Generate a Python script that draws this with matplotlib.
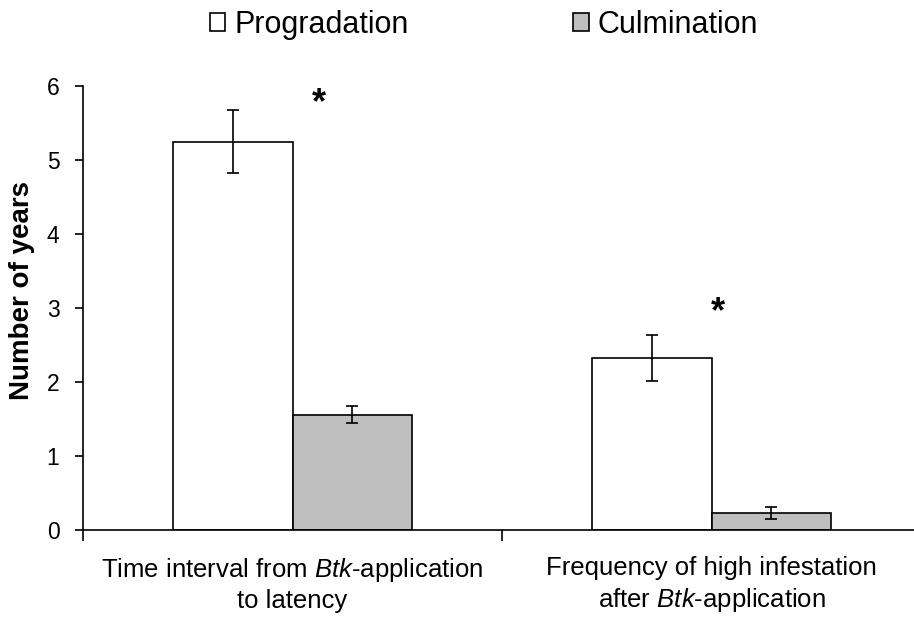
import numpy as np
import matplotlib
matplotlib.use("Agg")
import matplotlib.pyplot as plt
from matplotlib.patches import Patch

plt.rcParams['font.family'] = ['Liberation Sans', 'DejaVu Sans']
plt.rcParams['mathtext.fontset'] = 'custom'
plt.rcParams['mathtext.it'] = 'Liberation Sans:italic'
plt.rcParams['mathtext.rm'] = 'Liberation Sans'

# data
categories = ["Time interval from $\\it{Btk}$-application\nto latency",
              "Frequency of high infestation\nafter $\\it{Btk}$-application"]
series = ['Progradation', 'Culmination']
prog = [5.25, 2.33]
prog_err = [0.43, 0.31]
culm = [1.56, 0.225]
culm_err = [0.12, 0.08]
star_y = [5.76, 2.94]
yticks = [0, 1, 2, 3, 4, 5, 6]

W, H = 914, 621
fig = plt.figure(figsize=(W / 100, H / 100), dpi=100)
ax = fig.add_axes([83 / W, 91 / H, (921 - 83) / W, (530 - 86) / H])

x = np.arange(len(categories))
bw = 0.286
err_kw = {'elinewidth': 1.2, 'capthick': 1.2, 'ecolor': 'black'}
ax.bar(x - bw / 2, prog, bw, yerr=prog_err, capsize=4.5, color='white',
       edgecolor='black', linewidth=1.2, error_kw=err_kw, label=series[0])
ax.bar(x + bw / 2, culm, bw, yerr=culm_err, capsize=4.5, color='#bfbfbf',
       edgecolor='black', linewidth=1.2, error_kw=err_kw, label=series[1])

# significance stars
star_dx = [0.062, 0.016]
for i in range(len(categories)):
    ax.text(x[i] + star_dx[i], star_y[i], '*', fontsize=26, fontweight='bold',
            ha='center', va='center')

ax.set_xlim(-0.5, 1.5)
ax.set_ylim(0, 6)
ax.set_yticks(yticks)
ax.tick_params(axis='y', labelsize=16.5, length=6, width=1.2, direction='out', pad=11)
ax.set_xticks([-0.5, 0.5, 1.5])
ax.set_xticklabels([])
ax.tick_params(axis='x', which='major', length=8, width=1.2, direction='out')
ax.set_xticks(x, minor=True)
ax.set_xticklabels(categories, minor=True, fontsize=18.5, linespacing=1.25)
ax.tick_params(axis='x', which='minor', length=0, pad=19)

ax.spines['top'].set_visible(False)
ax.spines['right'].set_visible(False)
ax.spines['left'].set_linewidth(1.2)
ax.spines['bottom'].set_linewidth(1.2)
ax.set_ylabel('Number of years', fontsize=20, fontweight='bold')
ax.yaxis.set_label_coords(-(83 - 35) / (921 - 83), (530 - 290) / (530 - 86))

handles = [Patch(facecolor='white', edgecolor='black', linewidth=1.2),
           Patch(facecolor='#bfbfbf', edgecolor='black', linewidth=1.2)]
fig.legend(handles, series, loc='center', bbox_to_anchor=(484 / W, 1 - 25 / H),
           ncol=2, frameon=False, fontsize=22, handlelength=0.5, handleheight=0.5,
           handletextpad=0.3, columnspacing=5.4)

fig.savefig('out.png', dpi=100)
